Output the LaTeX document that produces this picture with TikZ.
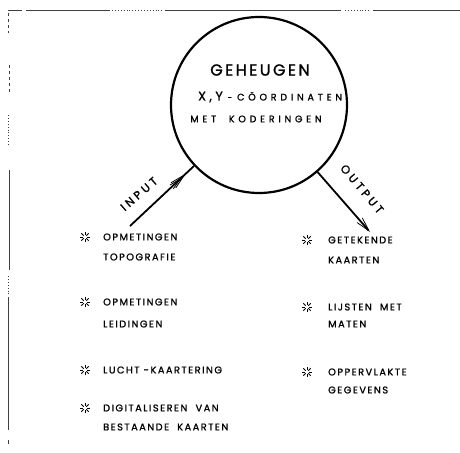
\documentclass[tikz,border=0pt]{standalone}
\usepackage{fontspec}
\setmainfont{Poppins}
\newfontfamily\lett[LetterSpace=15,FakeBold=1.2]{Poppins}
\newfontfamily\lettw[LetterSpace=28,FakeBold=1.2]{Poppins}
\newfontfamily\lettx[LetterSpace=40,FakeBold=1.2]{Poppins}
\usetikzlibrary{arrows.meta,decorations.markings}
\tikzset{
  frame/.style={draw=black!75,line width=0.9pt},
  item/.style={anchor=west,inner sep=0pt,font=\lett\fontsize{9.8}{9.8}\selectfont},
  flow/.style={draw,line width=1.8pt},
  flowlabel/.style={inner sep=0pt,font=\lettw\fontsize{11.5}{11.5}\selectfont},
  burst/.pic={\foreach \a in {0,45,...,315}{\draw[line width=0.9pt] (\a:1.8pt) -- (\a:5.2pt);}}
}
\begin{document}
\begin{tikzpicture}[x=1pt,y=-1pt]
\useasboundingbox (0,0) rectangle (460,452);
% scanned frame
\draw[frame] (8,10) -- (22,10);
\draw[frame] (26,10) -- (110,10);
\draw[frame,dotted] (112,10) -- (163,10);
\draw[frame] (165,10) -- (341,10);
\draw[frame,dotted] (345,10) -- (370,10);
\draw[frame] (373,10) -- (460,10);
\draw[frame,dashed] (8,13) -- (8,33);
\draw[frame,dashed] (9,65) -- (9,95);
\draw[frame,dotted] (8,115) -- (8,145);
\draw[frame] (9,170) -- (9,270);
\draw[frame,dotted] (8,276) -- (8,294);
\draw[frame] (8,297) -- (8,430);
\draw[frame] (8,440) -- (8,444);
% memory circle
\node[draw,circle,line width=2.2pt,minimum size=176pt,inner sep=0pt] (geh) at (259,105) {};
\node[inner sep=0pt,font=\lett\fontsize{16}{16}\selectfont] (t1) at (260,70) {GEHEUGEN};
\node[inner sep=0pt,anchor=west] (t2) at (198,97) {{\lettw\fontsize{12.5}{12.5}\selectfont X,Y}\hspace{5pt}{\lettw\fontsize{8}{8}\selectfont -}\hspace{5pt}{\lettx\fontsize{9.5}{9.5}\selectfont CÖORDINATEN}};
\node[inner sep=0pt,font=\lettx\fontsize{9.5}{9.5}\selectfont] (t3) at (256,119) {MET\ \ KODERINGEN};
% input / output
\coordinate (inA) at (130,226);
\coordinate (outB) at (370,232);
\draw[flow,postaction={decorate},decoration={markings,
  mark=at position 0.87 with {\arrow[line width=0.8pt]{Straight Barb[length=15pt,width=7pt]}},
  mark=at position 0.81 with {\arrow[line width=0.8pt]{Straight Barb[length=12pt,width=5pt]}}}]
  (inA) -- (geh);
\draw[flow,-{Straight Barb[length=14pt,width=7pt,line width=0.8pt]}] (geh) -- (outB);
\node[flowlabel,rotate=41] (inlab) at (139,194) {INPUT};
\node[flowlabel,rotate=-50] (outlab) at (362,189) {OUTPUT};
% input list
\pic at (85,237) {burst};
\node[item] (i1a) at (103,237) {OPMETINGEN};
\node[item] (i1b) at (103,257) {TOPOGRAFIE};
\pic at (85,302) {burst};
\node[item] (i2a) at (103,302) {OPMETINGEN};
\node[item] (i2b) at (103,324) {LEIDINGEN};
\pic at (85,370) {burst};
\node[item] (i3a) at (103,370) {LUCHT -KAARTERING};
\pic at (85,408) {burst};
\node[item] (i4a) at (103,408) {DIGITALISEREN\ \ VAN};
\node[item] (i4b) at (103,427) {BESTAANDE\ \ KAARTEN};
% output list
\pic at (307,240) {burst};
\node[item] (o1a) at (328,240) {GETEKENDE};
\node[item] (o1b) at (328,260) {KAARTEN};
\pic at (307,307) {burst};
\node[item] (o2a) at (328,307) {LIJSTEN\ \ MET};
\node[item] (o2b) at (328,324) {MATEN};
\pic at (307,372) {burst};
\node[item] (o3a) at (328,372) {OPPERVLAKTE};
\node[item] (o3b) at (328,390) {GEGEVENS};
\end{tikzpicture}
\end{document}
